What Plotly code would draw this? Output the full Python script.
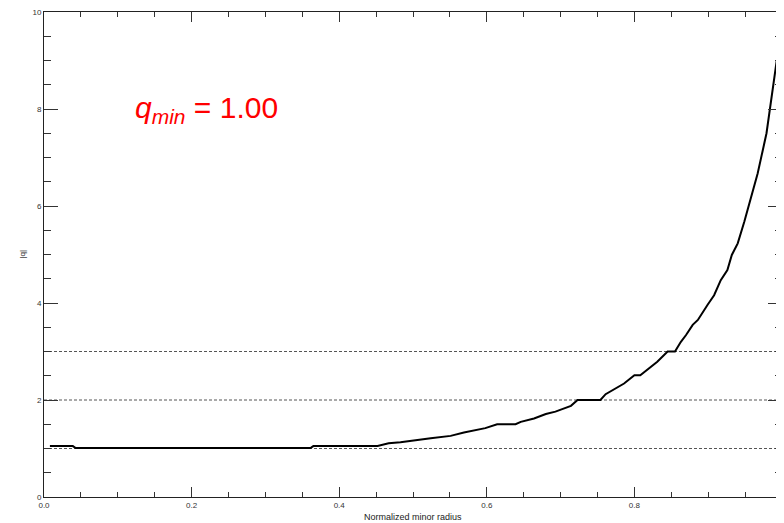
import plotly.graph_objects as go

# Normalized minor radius and |q| profile
r = [0.008, 0.039, 0.043, 0.361, 0.365, 0.452, 0.467, 0.483, 0.524, 0.551, 0.569,
     0.583, 0.598, 0.614, 0.639, 0.646, 0.664, 0.680, 0.693, 0.714, 0.723, 0.754,
     0.761, 0.786, 0.800, 0.808, 0.831, 0.845, 0.855, 0.863, 0.870, 0.879, 0.886,
     0.899, 0.908, 0.917, 0.926, 0.932, 0.940, 0.949, 0.957, 0.967, 0.979, 0.984, 0.993]
q = [1.05, 1.05, 1.01, 1.01, 1.05, 1.05, 1.11, 1.13, 1.21, 1.26, 1.33,
     1.38, 1.42, 1.50, 1.50, 1.55, 1.62, 1.71, 1.76, 1.88, 2.00, 2.00,
     2.12, 2.34, 2.51, 2.51, 2.79, 3.00, 3.00, 3.20, 3.34, 3.55, 3.65,
     3.96, 4.16, 4.47, 4.68, 4.99, 5.23, 5.68, 6.14, 6.67, 7.50, 8.01, 9.01]

ref_levels = [1, 2, 3]
x_ticks = [0.0, 0.2, 0.4, 0.6, 0.8, 1.0]
x_tick_labels = ["0.0", "0.2", "0.4", "0.6", "0.8", "1.0"]
y_ticks = [0, 2, 4, 6, 8, 10]
y_tick_labels = ["0", "2", "4", "6", "8", "10"]
annot_text = "<i>q</i><sub><i>min</i></sub> = 1.00"

fig = go.Figure()

for lvl in ref_levels:
    fig.add_trace(go.Scatter(
        x=[0, 1], y=[lvl, lvl], mode="lines",
        line=dict(color="#555555", width=1, dash="3px,2px"),
        hoverinfo="skip", showlegend=False))

fig.add_trace(go.Scatter(
    x=r, y=q, mode="lines",
    line=dict(color="black", width=2),
    showlegend=False))

tickfont = dict(family="Liberation Sans, Arial, sans-serif", size=8, color="#333333")

# page body has an 8px default margin, so the figure is sized/offset to compensate
fig.update_layout(
    width=776, height=515,
    margin=dict(l=36, r=2, t=4, b=26),
    paper_bgcolor="white", plot_bgcolor="white",
    xaxis=dict(
        range=[0, 1], tickvals=x_ticks, ticktext=x_tick_labels,
        ticks="inside", ticklen=10, tickwidth=1, tickcolor="#333333",
        minor=dict(dtick=0.05, ticks="inside", ticklen=5, tickcolor="#333333", showgrid=False),
        showline=True, linecolor="#222222", linewidth=1, mirror="ticks",
        showgrid=False, zeroline=False, tickfont=tickfont, automargin=False,
        ticklabeloverflow="allow"),
    yaxis=dict(
        range=[0, 10], tickvals=y_ticks, ticktext=y_tick_labels,
        ticks="inside", ticklen=14, tickwidth=1, tickcolor="#333333",
        minor=dict(dtick=0.5, ticks="inside", ticklen=7, tickcolor="#333333", showgrid=False),
        showline=True, linecolor="#222222", linewidth=1, mirror="ticks",
        showgrid=False, zeroline=False, tickfont=tickfont, automargin=False,
        ticklabeloverflow="allow"),
    annotations=[
        dict(text="Normalized minor radius", xref="paper", yref="paper",
             x=0.5, y=0, yshift=-20, xanchor="center", yanchor="middle", showarrow=False,
             font=dict(family="Liberation Sans, Arial, sans-serif", size=9, color="#222222")),
        dict(text="|q|", xref="paper", yref="paper", x=0, xshift=-22, y=0.5,
             xanchor="center", yanchor="middle",
             textangle=-90, showarrow=False,
             font=dict(family="Liberation Sans, Arial, sans-serif", size=8, color="#222222")),
        dict(text=annot_text, xref="x", yref="y", x=0.22, y=7.98,
             showarrow=False,
             font=dict(family="Liberation Sans, Arial, sans-serif", size=30, color="#ff0000")),
    ],
)

fig.write_html("out.html")
